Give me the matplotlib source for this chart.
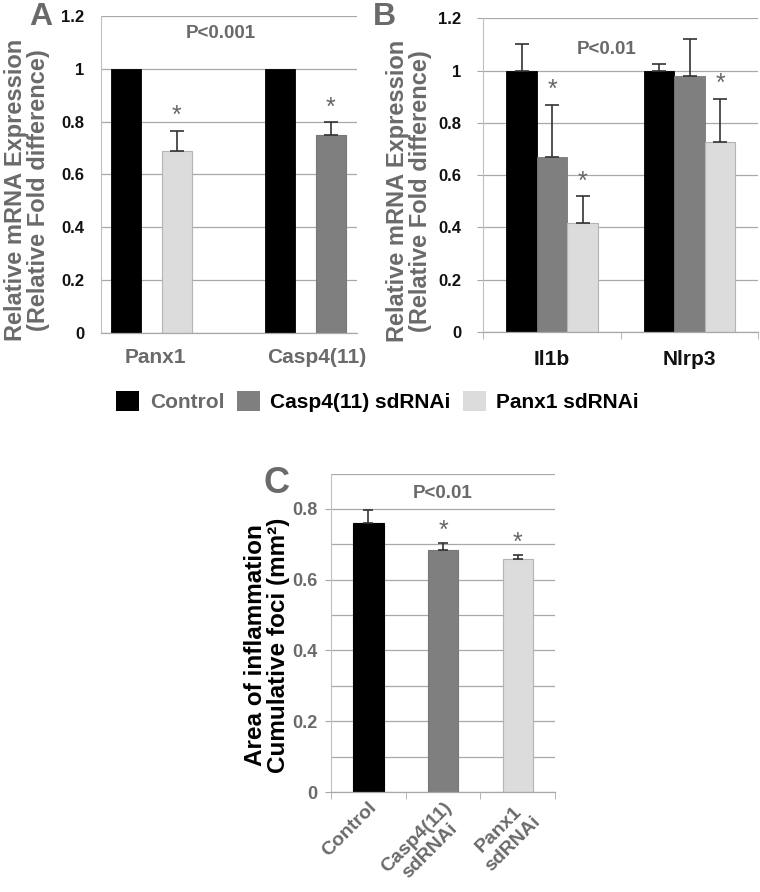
import numpy as np
import matplotlib.pyplot as plt
from matplotlib.patches import Patch
from matplotlib.ticker import FuncFormatter

plt.rcParams['font.family'] = ['Liberation Sans', 'DejaVu Sans']
plt.rcParams['font.weight'] = 'bold'
plt.rcParams['axes.labelweight'] = 'bold'

# ---- data ----
genes_a = ['Panx1', 'Casp4(11)']
ctrl_a = [1.0, 1.0]
sd_a = [0.69, 0.75]
sd_a_err = [0.075, 0.047]
sd_a_kind = ['panx', 'casp']

genes_b = ['Il1b', 'Nlrp3']
ctrl_b = [1.0, 1.0]
ctrl_b_err = [0.10, 0.027]
casp_b = [0.67, 0.98]
casp_b_err = [0.20, 0.14]
panx_b = [0.418, 0.725]
panx_b_err = [0.10, 0.166]
casp_b_sig = [True, False]
panx_b_sig = [True, True]

groups_c = ['Control', 'Casp4(11)\nsdRNAi', 'Panx1\nsdRNAi']
area_c = [0.761, 0.684, 0.659]
area_c_err = [0.036, 0.02, 0.011]
sig_c = [False, True, True]

legend_labels = ['Control', 'Casp4(11) sdRNAi', 'Panx1 sdRNAi']

# ---- style ----
BLACK = '#000000'
MID = '#7f7f7f'
LIGHT = '#dcdcdc'
GRID = '#a8a8a8'
TXT_GRAY = '#6a6a6a'
colors = {'ctrl': BLACK, 'casp': MID, 'panx': LIGHT}
edges = {'ctrl': BLACK, 'casp': '#777777', 'panx': '#b4b4b4'}
ekw = dict(ecolor='#333333', elinewidth=1.2, capthick=1.2)
fmt = FuncFormatter(lambda v, p: '%g' % round(v, 2))


def style_axes(ax, ymax, ystep, gridstep, tick_color):
    ax.set_ylim(0, ymax)
    ax.set_yticks(np.arange(0, ymax + 1e-9, ystep))
    ax.set_yticks(np.arange(0, ymax + 1e-9, gridstep), minor=True)
    ax.yaxis.set_major_formatter(fmt)
    ax.yaxis.grid(True, which='both', color=GRID, linewidth=0.9)
    ax.set_axisbelow(True)
    for s in ['top', 'right']:
        ax.spines[s].set_visible(False)
    ax.spines['left'].set_color('#c0c0c0')
    ax.spines['bottom'].set_color(GRID)
    ax.spines['left'].set_linewidth(0.8)
    ax.spines['bottom'].set_linewidth(0.9)
    ax.tick_params(axis='y', which='both', length=0, colors=tick_color)
    ax.tick_params(axis='y', labelsize=12, pad=12)


def star(ax, x, y, dy):
    ax.annotate('*', (x, y), xytext=(0, dy), textcoords='offset points',
                ha='center', va='bottom', fontsize=18, color='#666666',
                fontweight='normal')


fig = plt.figure(figsize=(7.6, 8.92), dpi=100)

# ---- panel A ----
axA = fig.add_axes([0.1329, 0.6267, 0.3364, 0.3554])
xa = np.array([0.393, 1.598])
off = 0.201
w = 0.235
axA.bar(xa - off, ctrl_a, w, color=BLACK, edgecolor=BLACK, linewidth=0.6)
for i in range(2):
    k = sd_a_kind[i]
    axA.bar(xa[i] + off, sd_a[i], w, color=colors[k], edgecolor=edges[k],
            linewidth=0.8, yerr=[[0], [sd_a_err[i]]], capsize=5, error_kw=ekw)
    star(axA, xa[i] + off, sd_a[i] + sd_a_err[i], 2)
axA.set_xlim(0, 2)
style_axes(axA, 1.2, 0.2, 0.2, '#111111')
axA.set_xticks(xa + np.array([0.03, 0.09]), genes_a)
axA.tick_params(axis='x', length=0, pad=11, labelsize=15, labelcolor=TXT_GRAY)
axA.set_ylabel('Relative mRNA Expression\n(Relative Fold difference)',
               fontsize=17, color=TXT_GRAY, linespacing=1.0)
axA.yaxis.set_label_coords(-0.2, 0.45)
axA.text(0.47, 1.133, 'P<0.001', ha='center', va='center', fontsize=13.5,
         color=TXT_GRAY, transform=axA.get_yaxis_transform())
fig.text(0.053, 0.972, 'A', fontsize=23, color=TXT_GRAY, ha='center', va='baseline')

# ---- panel B ----
axB = fig.add_axes([0.636, 0.6281, 0.3618, 0.3513])
xb = np.arange(2) + 0.5
wb = 0.222
axB.bar(xb - wb, ctrl_b, wb, color=BLACK, edgecolor=BLACK, linewidth=0.6,
        yerr=[[0, 0], ctrl_b_err], capsize=5, error_kw=ekw)
axB.bar(xb, casp_b, wb, color=MID, edgecolor=edges['casp'], linewidth=0.6,
        yerr=[[0, 0], casp_b_err], capsize=5, error_kw=ekw)
axB.bar(xb + wb, panx_b, wb, color=LIGHT, edgecolor=edges['panx'], linewidth=0.8,
        yerr=[[0, 0], panx_b_err], capsize=5, error_kw=ekw)
for i in range(2):
    if casp_b_sig[i]:
        star(axB, xb[i], casp_b[i] + casp_b_err[i], 2)
    if panx_b_sig[i]:
        star(axB, xb[i] + wb, panx_b[i] + panx_b_err[i], 2)
axB.set_xlim(0, 2)
style_axes(axB, 1.2, 0.2, 0.2, '#111111')
axB.set_xticks(xb, genes_b)
axB.set_xticks([0, 1, 2], minor=True)
axB.tick_params(axis='x', which='major', length=0, pad=13, labelsize=15,
                labelcolor='#111111')
axB.tick_params(axis='x', which='minor', length=5, color=GRID, direction='out')
axB.tick_params(axis='y', length=4, color=GRID)
axB.set_ylabel('Relative mRNA Expression\n(Relative Fold difference)',
               fontsize=17, color=TXT_GRAY, linespacing=1.0)
axB.yaxis.set_label_coords(-0.187, 0.45)
axB.text(0.9, 1.08, 'P<0.01', ha='center', va='center', fontsize=13.5,
         color=TXT_GRAY)
fig.text(0.506, 0.972, 'B', fontsize=23, color=TXT_GRAY, ha='center', va='baseline')

# ---- legend ----
handles = [Patch(facecolor=BLACK), Patch(facecolor=MID), Patch(facecolor=LIGHT)]
leg = fig.legend(handles, legend_labels, loc='center', bbox_to_anchor=(0.497, 0.5504),
                 ncol=3, frameon=False, fontsize=15, handlelength=1.1,
                 handleheight=1.1, handletextpad=0.5, columnspacing=0.6)
leg.get_texts()[0].set_color(TXT_GRAY)

# ---- panel C ----
axC = fig.add_axes([0.4355, 0.1121, 0.2951, 0.357])
xc = np.arange(3) + 0.5
cc = [BLACK, MID, LIGHT]
ec = [BLACK, edges['casp'], edges['panx']]
axC.bar(xc, area_c, 0.41, color=cc, edgecolor=ec, linewidth=0.8,
        yerr=[[0, 0, 0], area_c_err], capsize=3.5, error_kw=ekw)
for i in range(3):
    if sig_c[i]:
        star(axC, xc[i], area_c[i] + area_c_err[i], 0)
axC.set_xlim(0, 3)
style_axes(axC, 0.9, 0.2, 0.1, TXT_GRAY)
axC.set_ylim(0, 0.9)
axC.set_yticks(np.arange(0, 0.81, 0.2))
axC.tick_params(axis='y', labelsize=13, pad=6, length=4, color=GRID)
axC.set_xticks(xc)
axC.set_xticklabels(groups_c, rotation=45, ha='right', rotation_mode='anchor',
                    multialignment='center')
axC.set_xticks([0, 1, 2, 3], minor=True)
axC.tick_params(axis='x', which='major', length=0, pad=5, labelsize=14,
                labelcolor=TXT_GRAY)
axC.tick_params(axis='x', which='minor', length=5, color=GRID, direction='out')
axC.set_ylabel('Area of inflammation\nCumulative foci (mm²)', fontsize=17.5,
               color='black', linespacing=1.0)
axC.yaxis.set_label_coords(-0.183, 0.46)
axC.text(1.5, 0.845, 'P<0.01', ha='center', va='center', fontsize=13.5,
         color=TXT_GRAY)
fig.text(0.364, 0.4473, 'C', fontsize=26, color=TXT_GRAY, ha='center', va='baseline')

fig.savefig('out.png', dpi=100)
